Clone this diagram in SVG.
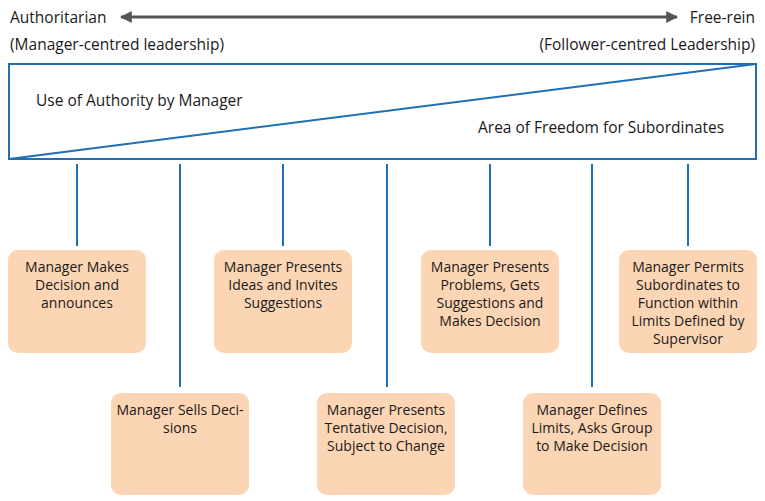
<svg xmlns="http://www.w3.org/2000/svg" width="765" height="501" viewBox="0 0 765 501">
<style>
text{font-family:"Open Sans","Noto Sans","Liberation Sans",sans-serif;font-size:14px;fill:#1a1a1a}
.h{font-size:15.5px}
.c{text-anchor:middle}
.r{text-anchor:end}
.box{fill:#fcd5b4}
.ln{stroke:#1f6fb5;stroke-width:2;fill:none}
</style>
<defs>
<marker id="ah" viewBox="0 0 10 10" refX="9" refY="5" markerWidth="4" markerHeight="4" orient="auto-start-reverse">
<path d="M0,0 L10,5 L0,10 z" fill="#555"/>
</marker>
</defs>
<rect width="765" height="501" fill="#fff"/>
<g id="scale">
<line x1="121" y1="17" x2="677" y2="17" stroke="#555" stroke-width="3" marker-start="url(#ah)" marker-end="url(#ah)"/>
<text class="h" x="10" y="23">Authoritarian</text>
<text class="h" x="10" y="50">(Manager-centred leadership)</text>
<text class="h r" x="755" y="23">Free-rein</text>
<text class="h r" x="755" y="50">(Follower-centred Leadership)</text>
</g>
<g id="continuum">
<rect class="ln" x="9" y="64" width="747" height="95"/>
<line class="ln" x1="9" y1="159" x2="756" y2="64"/>
<text class="h" x="36" y="106">Use of Authority by Manager</text>
<text class="h" x="478" y="133">Area of Freedom for Subordinates</text>
</g>
<g id="connectors" class="ln">
<line x1="77" y1="164" x2="77" y2="246"/>
<line x1="180" y1="164" x2="180" y2="387"/>
<line x1="283" y1="164" x2="283" y2="246"/>
<line x1="387" y1="164" x2="387" y2="387"/>
<line x1="490" y1="164" x2="490" y2="246"/>
<line x1="592" y1="164" x2="592" y2="387"/>
<line x1="688" y1="164" x2="688" y2="246"/>
</g>
<g id="n1"><rect class="box" x="8" y="250" width="138" height="103" rx="10"/>
<text class="c" x="77" y="272">Manager Makes</text><text class="c" x="77" y="290">Decision and</text><text class="c" x="77" y="308">announces</text></g>
<g id="n2"><rect class="box" x="111" y="393" width="138" height="102" rx="10"/>
<text class="c" x="180" y="415">Manager Sells Deci-</text><text class="c" x="180" y="433">sions</text></g>
<g id="n3"><rect class="box" x="214" y="250" width="138" height="103" rx="10"/>
<text class="c" x="283" y="272">Manager Presents</text><text class="c" x="283" y="290">Ideas and Invites</text><text class="c" x="283" y="308">Suggestions</text></g>
<g id="n4"><rect class="box" x="317" y="393" width="138" height="102" rx="10"/>
<text class="c" x="386" y="415">Manager Presents</text><text class="c" x="386" y="433">Tentative Decision,</text><text class="c" x="386" y="451">Subject to Change</text></g>
<g id="n5"><rect class="box" x="421" y="250" width="138" height="103" rx="10"/>
<text class="c" x="490" y="272">Manager Presents</text><text class="c" x="490" y="290">Problems, Gets</text><text class="c" x="490" y="308">Suggestions and</text><text class="c" x="490" y="326">Makes Decision</text></g>
<g id="n6"><rect class="box" x="523" y="393" width="138" height="102" rx="10"/>
<text class="c" x="592" y="415">Manager Defines</text><text class="c" x="592" y="433">Limits, Asks Group</text><text class="c" x="592" y="451">to Make Decision</text></g>
<g id="n7"><rect class="box" x="619" y="250" width="138" height="103" rx="10"/>
<text class="c" x="688" y="272">Manager Permits</text><text class="c" x="688" y="290">Subordinates to</text><text class="c" x="688" y="308">Function within</text><text class="c" x="688" y="326">Limits Defined by</text><text class="c" x="688" y="344">Supervisor</text></g>
</svg>
